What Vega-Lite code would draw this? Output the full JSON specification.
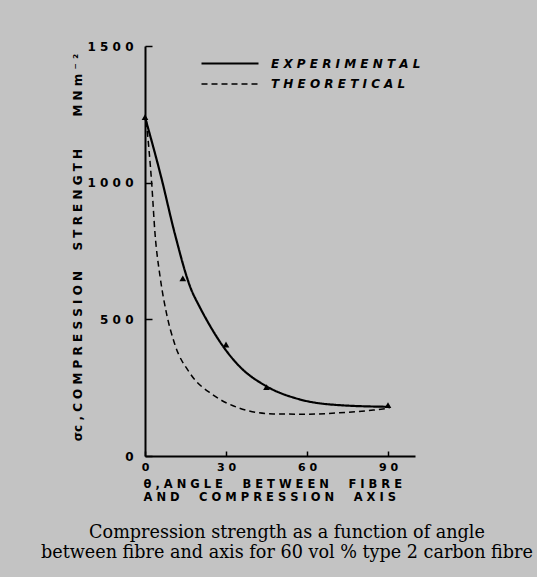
{
  "$schema": "https://vega.github.io/schema/vega-lite/v6.json",
  "width": 270,
  "height": 410,
  "autosize": {"type": "none"},
  "padding": {"left": 145, "top": 46, "right": 122, "bottom": 121},
  "background": "#c3c3c3",
  "datasets": {
    "curves": [
      {"series": "EXPERIMENTAL", "angle": 0, "strength": 1240},
      {"series": "EXPERIMENTAL", "angle": 6, "strength": 1020},
      {"series": "EXPERIMENTAL", "angle": 11, "strength": 815},
      {"series": "EXPERIMENTAL", "angle": 17, "strength": 612},
      {"series": "EXPERIMENTAL", "angle": 20, "strength": 550},
      {"series": "EXPERIMENTAL", "angle": 23, "strength": 495},
      {"series": "EXPERIMENTAL", "angle": 29, "strength": 400},
      {"series": "EXPERIMENTAL", "angle": 35, "strength": 328},
      {"series": "EXPERIMENTAL", "angle": 45, "strength": 255},
      {"series": "EXPERIMENTAL", "angle": 57, "strength": 208},
      {"series": "EXPERIMENTAL", "angle": 72, "strength": 186},
      {"series": "EXPERIMENTAL", "angle": 90, "strength": 180},
      {"series": "THEORETICAL", "angle": 0.5, "strength": 1225},
      {"series": "THEORETICAL", "angle": 2.5, "strength": 995},
      {"series": "THEORETICAL", "angle": 3.7, "strength": 815},
      {"series": "THEORETICAL", "angle": 5.6, "strength": 655},
      {"series": "THEORETICAL", "angle": 8, "strength": 520},
      {"series": "THEORETICAL", "angle": 11, "strength": 410},
      {"series": "THEORETICAL", "angle": 16.7, "strength": 302},
      {"series": "THEORETICAL", "angle": 25.3, "strength": 223},
      {"series": "THEORETICAL", "angle": 35, "strength": 175},
      {"series": "THEORETICAL", "angle": 47.5, "strength": 154},
      {"series": "THEORETICAL", "angle": 60, "strength": 153},
      {"series": "THEORETICAL", "angle": 72, "strength": 158},
      {"series": "THEORETICAL", "angle": 84.6, "strength": 168},
      {"series": "THEORETICAL", "angle": 90.5, "strength": 175}
    ],
    "points": [
      {"angle": 0, "strength": 1240},
      {"angle": 14, "strength": 650},
      {"angle": 30, "strength": 408},
      {"angle": 45, "strength": 252},
      {"angle": 90, "strength": 186}
    ]
  },
  "title": {
    "text": ["Compression strength as a function of angle", "between fibre and axis for 60 vol % type 2 carbon fibre"],
    "orient": "bottom",
    "anchor": "middle",
    "font": "DejaVu Serif",
    "fontSize": 17.6,
    "fontWeight": "normal",
    "color": "black",
    "lineHeight": 20,
    "offset": 21,
    "dx": 7
  },
  "layer": [
    {
      "data": {"name": "curves"},
      "mark": {"type": "line", "interpolate": "monotone", "color": "black"},
      "encoding": {
        "x": {
          "field": "angle",
          "type": "quantitative",
          "scale": {"domain": [0, 100], "nice": false},
          "axis": {
            "values": [0, 30, 60, 90],
            "grid": false,
            "labelExpr": "join(split(toString(datum.value), ''), ' ')",
            "labelFont": "DejaVu Sans",
            "labelFontSize": 11,
            "labelFontWeight": "bold",
            "labelColor": "black",
            "labelPadding": 10,
            "labelFlush": false,
            "tickSize": -5,
            "tickWidth": 1.5,
            "tickColor": "black",
            "domainColor": "black",
            "domainWidth": 2,
            "title": ["θ , A N G L E \u2003 B E T W E E N \u2003 F I B R E", "A N D \u2003 C O M P R E S S I O N \u2003 A X I S"],
            "titleFont": "DejaVu Sans",
            "titleFontSize": 11.5,
            "titleFontWeight": "bold",
            "titleColor": "black",
            "titleAnchor": "start",
            "titleAlign": "left",
            "titleBaseline": "top",
            "titleX": -2,
            "titleY": 22,
            "titleLineHeight": 13
          }
        },
        "y": {
          "field": "strength",
          "type": "quantitative",
          "scale": {"domain": [0, 1500], "nice": false},
          "axis": {
            "values": [0, 500, 1000, 1500],
            "grid": false,
            "labelExpr": "join(split(toString(datum.value), ''), ' ')",
            "labelFont": "DejaVu Sans",
            "labelFontSize": 12,
            "labelFontWeight": "bold",
            "labelColor": "black",
            "labelPadding": 19,
            "labelFlush": false,
            "tickSize": -7,
            "tickWidth": 1.5,
            "tickColor": "black",
            "domainColor": "black",
            "domainWidth": 2,
            "title": "σc , C O M P R E S S I O N \u2003 S T R E N G T H \u2003\u2003 M N m ⁻ ²",
            "titleFont": "DejaVu Sans",
            "titleFontSize": 12,
            "titleFontWeight": "bold",
            "titleColor": "black",
            "titleAngle": -90,
            "titleAlign": "center",
            "titleBaseline": "middle",
            "titleX": -68,
            "titleY": 201
          }
        },
        "strokeDash": {
          "field": "series",
          "type": "nominal",
          "scale": {"domain": ["EXPERIMENTAL", "THEORETICAL"], "range": [[1, 0], [6, 4]]},
          "legend": {
            "orient": "none",
            "legendX": 78.5,
            "legendY": 11,
            "title": null,
            "padding": 0,
            "symbolType": "M -5.7 0 L 5.7 0",
            "symbolSize": 100,
            "symbolStrokeWidth": 2,
            "symbolStrokeColor": "black",
            "symbolFillColor": "transparent",
            "labelOffset": 34.5,
            "labelExpr": "join(split(datum.label, ''), ' ')",
            "labelFont": "DejaVu Sans",
            "labelFontSize": 12,
            "labelFontWeight": "bold",
            "labelFontStyle": "italic",
            "labelColor": "black",
            "rowPadding": 8
          }
        },
        "strokeWidth": {
          "field": "series",
          "type": "nominal",
          "scale": {"domain": ["EXPERIMENTAL", "THEORETICAL"], "range": [2.2, 1.5]},
          "legend": null
        }
      }
    },
    {
      "data": {"name": "points"},
      "mark": {"type": "point", "shape": "triangle-up", "filled": true, "color": "black", "size": 45, "opacity": 1},
      "encoding": {
        "x": {"field": "angle", "type": "quantitative"},
        "y": {"field": "strength", "type": "quantitative"}
      }
    }
  ],
  "config": {
    "view": {"stroke": null}
  }
}
